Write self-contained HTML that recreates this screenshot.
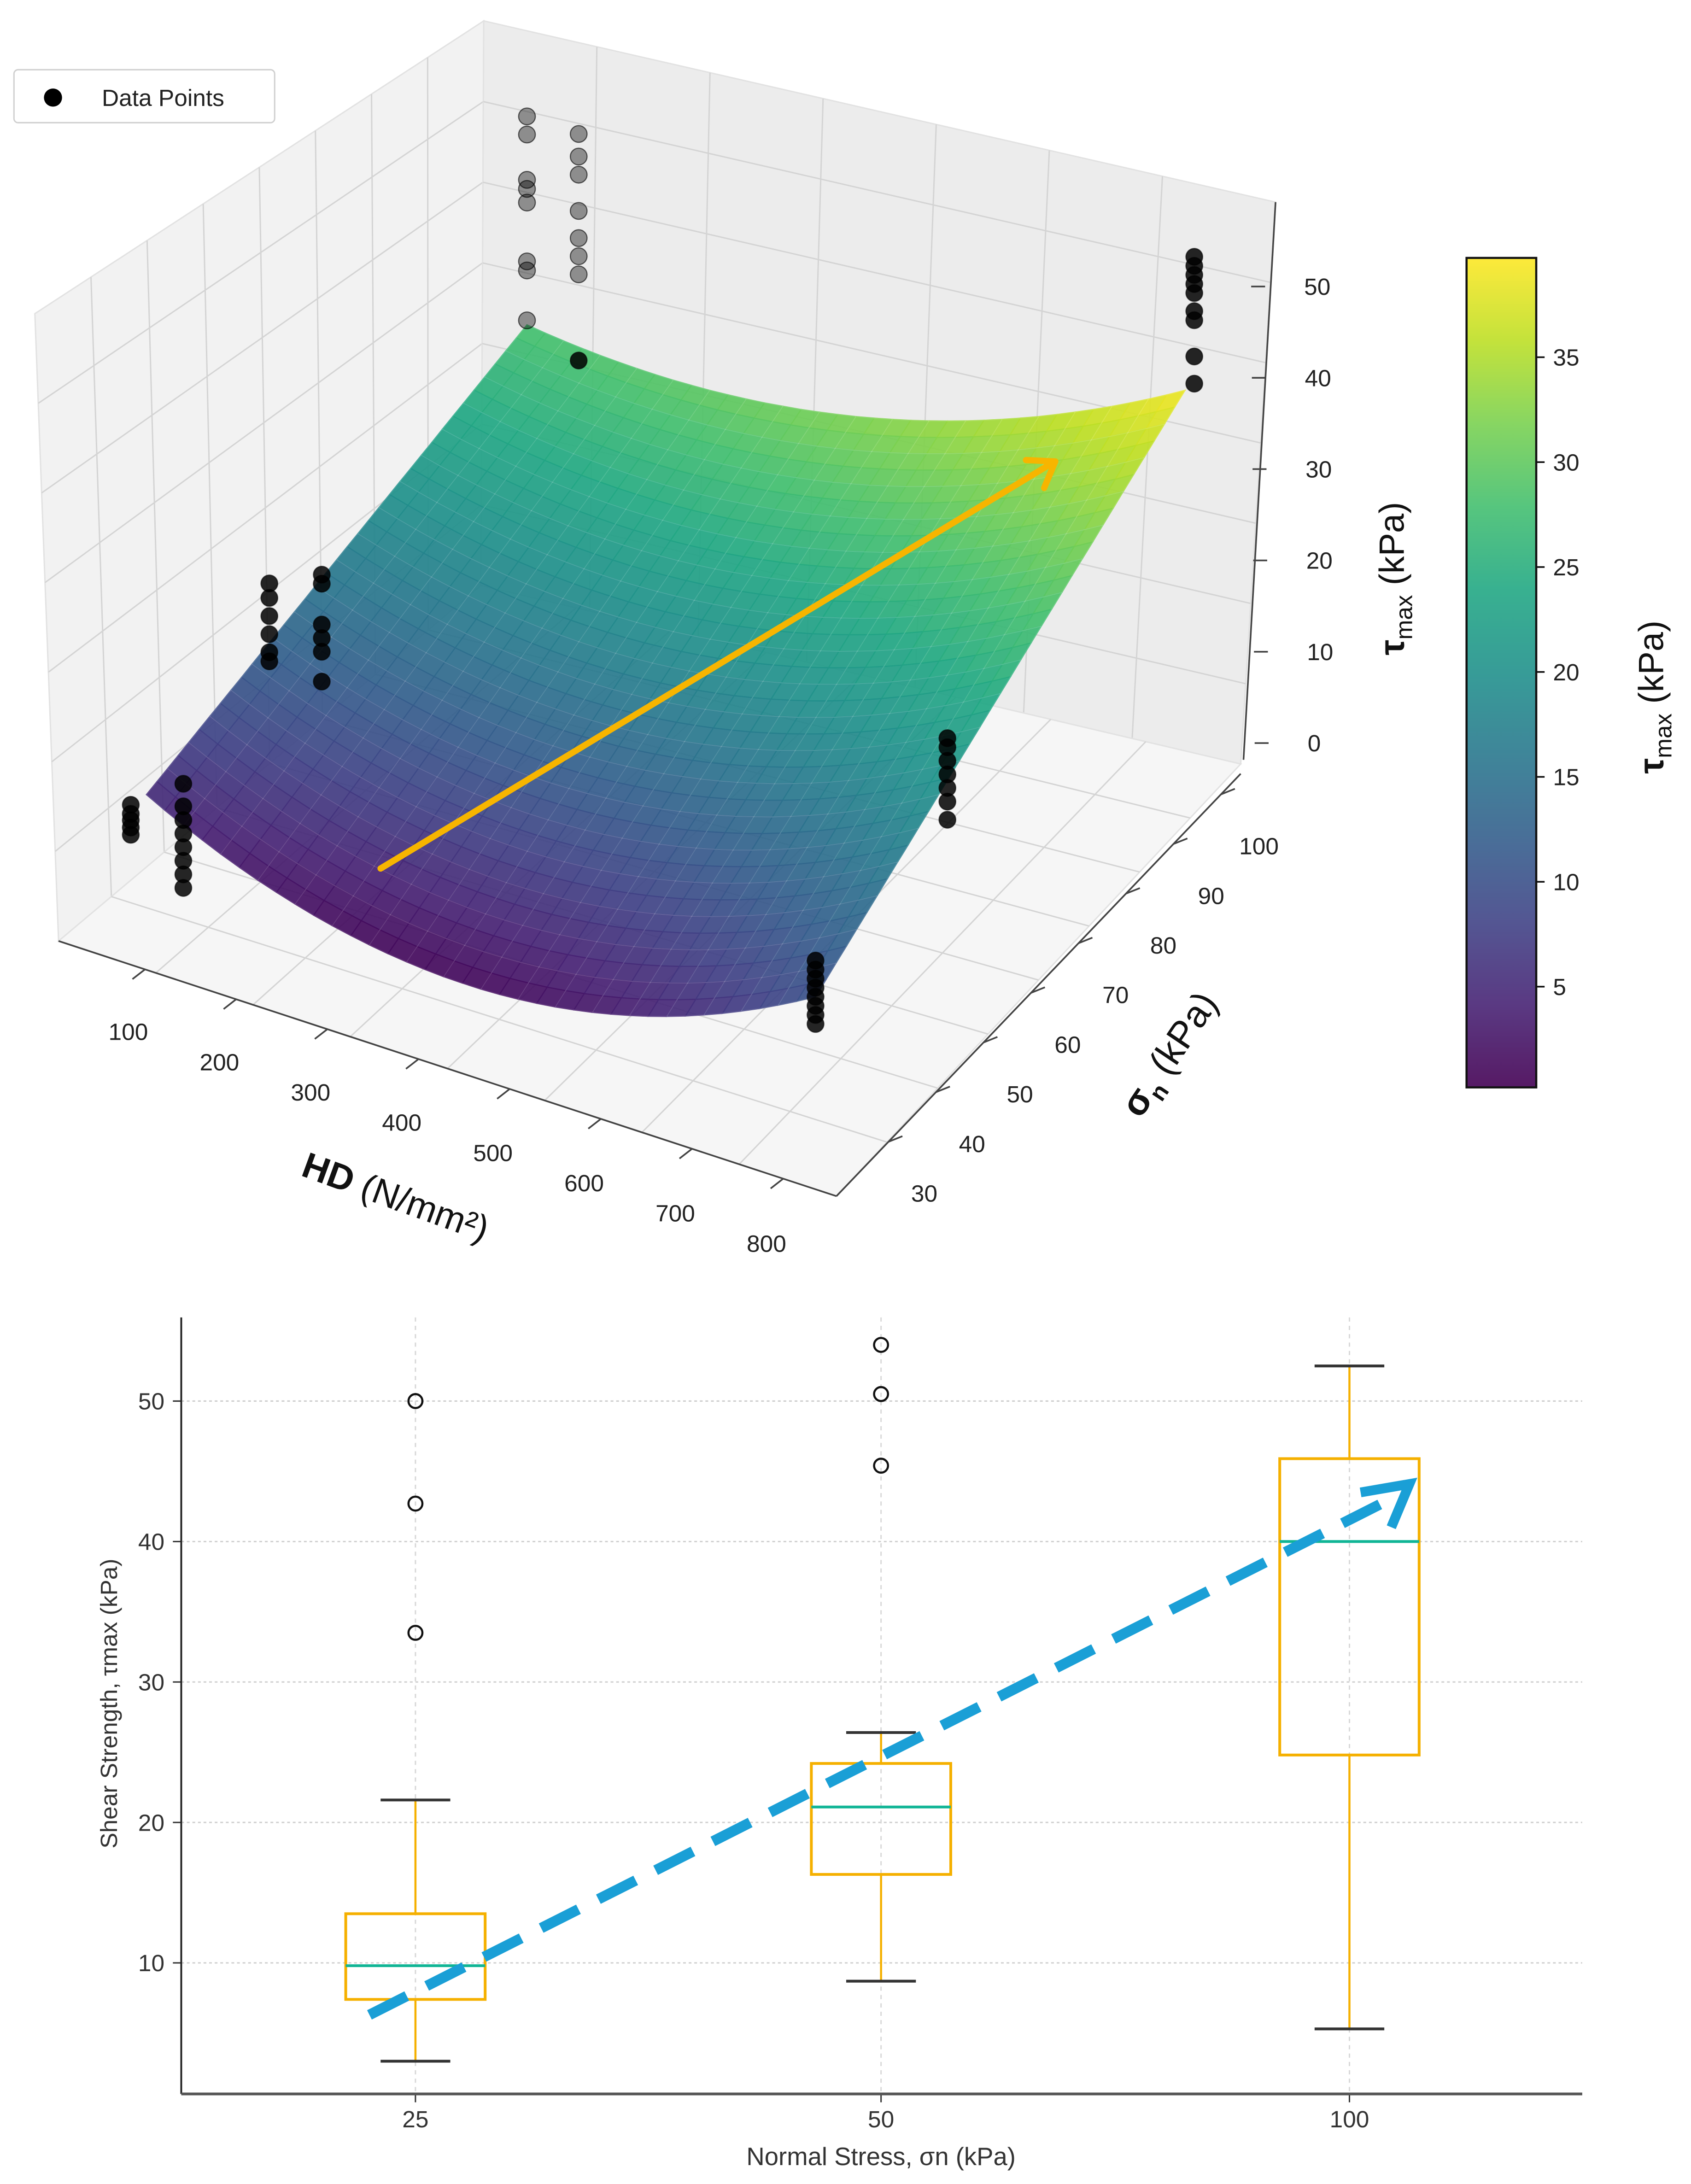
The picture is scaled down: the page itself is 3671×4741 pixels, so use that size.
<!DOCTYPE html>
<html><head><meta charset="utf-8">
<style>
html,body{margin:0;padding:0;background:#fff;}
svg{display:block;font-family:"Liberation Sans","DejaVu Sans",sans-serif;}
</style></head>
<body>
<svg id="fig" width="3671" height="4741" viewBox="0 0 1213 1566.6" xmlns="http://www.w3.org/2000/svg">
<defs>
<linearGradient id="cbgrad" x1="0" y1="1" x2="0" y2="0">
<stop offset="0" stop-color="#440154"/><stop offset="0.1" stop-color="#482475"/><stop offset="0.2" stop-color="#414487"/><stop offset="0.3" stop-color="#355f8d"/><stop offset="0.4" stop-color="#2a788e"/><stop offset="0.5" stop-color="#21918c"/><stop offset="0.6" stop-color="#22a884"/><stop offset="0.7" stop-color="#44bf70"/><stop offset="0.8" stop-color="#7ad151"/><stop offset="0.9" stop-color="#bddf26"/><stop offset="1" stop-color="#fde725"/>
</linearGradient>
</defs>
<g id="g3d"></g>
<g id="gcb"></g>
<g id="gbox"></g>
</svg>
<script>
// ---------- 3D chart data ----------
const hdTicks = [100,200,300,400,500,600,700,800];
const snTicks = [30,40,50,60,70,80,90,100];
const tauTicks = [0,10,20,30,40,50];
const cbTicks = [5,10,15,20,25,30,35];
const cornerTau = [5,10,39,28]; // (hd100,sn30),(hd800,sn30),(hd800,sn100),(hd100,sn100)
const ptHD  = [95,95,95,95,95, 150,150,150,150,150,150,150,150, 115,115,115,115,115,115, 170,170,170,170,170,170, 100,100,100,100,100,100,100,100, 155,155,155,155,155,155,155,155, 800,800,800,800,800,800,800,800, 800,800,800,800,800,800,800, 810,810,810,810,810,810,810,810,810];
const ptSN  = [28,28,28,28,28, 28,28,28,28,28,28,28,28, 50,50,50,50,50,50, 50,50,50,50,50,50, 100,100,100,100,100,100,100,100, 100,100,100,100,100,100,100,100, 30,30,30,30,30,30,30,30, 55,55,55,55,55,55,55, 100,100,100,100,100,100,100,100,100];
const ptTau = [1.2,2,2.8,3.5,4.5, -2.5,-1,0.5,2,3.5,5,6.5,9, 20.6,19,17,15,13,12, 23.5,22.5,18,16.5,15,11.7, 51,49,44,43,41.5,35,34,28.5, 50.5,48,46,42,39,37,35,25.5, 14,13,12,11,10,9,8,7, 25,24,22.5,21,19.5,18,16, 54,53,52,51,50,48,47,43,40];
const ptFaded = [0,0,0,0,0, 0,0,0,0,0,0,0,0, 0,0,0,0,0,0, 0,0,0,0,0,0, 1,1,1,1,1,1,1,1, 1,1,1,1,1,1,1,0, 0,0,0,0,0,0,0,0, 0,0,0,0,0,0,0, 0,0,0,0,0,0,0,0,0];

// ---------- box plot data ----------
const boxCats = ["25","50","100"];
const boxQ1 = [7.4,16.3,24.8];
const boxQ3 = [13.5,24.2,45.9];
const boxMed = [9.8,21.1,40.0];
const boxWlo = [3.0,8.7,5.3];
const boxWhi = [21.6,26.4,52.5];
const outCat = [0,0,0,1,1,1];
const outVal = [33.5,42.7,50.0,45.4,50.5,54.0];
const boxYTicks = [10,20,30,40,50];
const trendFrom = [6.3]; const trendTo = [43.4];

const NS="http://www.w3.org/2000/svg";
function mk(parent,tag,attrs,text){const e=document.createElementNS(NS,tag);for(const k in attrs)e.setAttribute(k,attrs[k]);if(text!==undefined)e.textContent=text;parent.appendChild(e);return e;}

// ---------- 3D projection ----------
const F=[[105,602.5],[585,780],[850,533.5],[378,415]];
const TZ=6.5;
function proj(hd,sn,t){
  const u=(hd-100)/700, v=(sn-30)/70;
  const x=F[0][0]*(1-u)*(1-v)+F[1][0]*u*(1-v)+F[2][0]*u*v+F[3][0]*(1-u)*v;
  const y=F[0][1]*(1-u)*(1-v)+F[1][1]*u*(1-v)+F[2][1]*u*v+F[3][1]*(1-u)*v;
  return [x,y-t*TZ];
}
function bil(u,v){return cornerTau[0]*(1-u)*(1-v)+cornerTau[1]*u*(1-v)+cornerTau[2]*u*v+cornerTau[3]*(1-u)*v;}
function surfTau(u,v){return bil(u,v)-4*u*(1-u)*(10.3-3.8*v);}
function colTau(u,v){return bil(u,v)-4*u*(1-u)*(6.5-5*v);}
const VS=[[68,1,84],[72,36,117],[65,68,135],[53,95,141],[42,120,142],[33,145,140],[34,168,132],[68,191,112],[122,209,81],[189,223,38],[253,231,37]];
function viridis(t){t=Math.max(0,Math.min(1,t));const s=t*10,i=Math.min(9,Math.floor(s)),f=s-i;const a=VS[i],b=VS[i+1];
 return `rgb(${Math.round(a[0]+(b[0]-a[0])*f)},${Math.round(a[1]+(b[1]-a[1])*f)},${Math.round(a[2]+(b[2]-a[2])*f)})`;}

const g3=document.getElementById('g3d');
function quadPt(Q,a,b){
  return [Q[0][0]*(1-a)*(1-b)+Q[1][0]*a*(1-b)+Q[2][0]*a*b+Q[3][0]*(1-a)*b,
          Q[0][1]*(1-a)*(1-b)+Q[1][1]*a*(1-b)+Q[2][1]*a*b+Q[3][1]*(1-a)*b];}
function pane(Q,fill,name,nA,nB){
  const p=mk(g3,'polygon',{points:Q.map(q=>q.join(',')).join(' '),fill:fill,stroke:'#e2e2e2','stroke-width':1});
  
  for(let i=1;i<nA;i++){const a=i/nA;const s=quadPt(Q,a,0),e=quadPt(Q,a,1);mk(g3,'line',{x1:s[0],y1:s[1],x2:e[0],y2:e[1],stroke:'#d4d4d4','stroke-width':1});}
  for(let i=1;i<nB;i++){const b=i/nB;const s=quadPt(Q,0,b),e=quadPt(Q,1,b);mk(g3,'line',{x1:s[0],y1:s[1],x2:e[0],y2:e[1],stroke:'#d4d4d4','stroke-width':1});}
}
pane([[42,675],[345,420],[347,15],[25,225]],'#f2f2f2','left-pane',8,7);
pane([[345,420],[890,548],[915,145],[347,15]],'#ececec','back-pane',7,7);
pane([[42,675],[600,858],[890,548],[345,420]],'#f6f6f6','floor-pane',8,8);

const gs=mk(g3,'g',{});
const N=36;
for(let j=N-1;j>=0;j--){for(let i=0;i<N;i++){
  const u0=i/N,u1=(i+1)/N,v0=j/N,v1=(j+1)/N;
  const c=[[u0,v0],[u1,v0],[u1,v1],[u0,v1]].map(([u,v])=>proj(100+u*700,30+v*70,surfTau(u,v)));
  const col=viridis(colTau((u0+u1)/2,(v0+v1)/2)/39.7);
  mk(gs,'polygon',{points:c.map(p=>p[0].toFixed(1)+','+p[1].toFixed(1)).join(' '),fill:col,stroke:col,'stroke-width':0.8,'fill-opacity':0.93});
}}
for(let k=0;k<=N;k+=2){const pts=[];for(let m=0;m<=N;m++){const u=k/N,v=m/N;pts.push(proj(100+u*700,30+v*70,surfTau(u,v)).map(n=>n.toFixed(1)).join(','));}
 mk(gs,'polyline',{points:pts.join(' '),fill:'none',stroke:'rgba(255,255,255,0.18)','stroke-width':0.7});
 const pts2=[];for(let m=0;m<=N;m++){const v=k/N,u=m/N;pts2.push(proj(100+u*700,30+v*70,surfTau(u,v)).map(n=>n.toFixed(1)).join(','));}
 mk(gs,'polyline',{points:pts2.join(' '),fill:'none',stroke:'rgba(255,255,255,0.18)','stroke-width':0.7});}

const ar=mk(g3,'g',{});
mk(ar,'line',{x1:273,y1:623,x2:755,y2:332,stroke:'#f7b500','stroke-width':4.5,'stroke-linecap':'round'});
mk(ar,'polyline',{points:'736,330 757,331 749,350',fill:'none',stroke:'#f7b500','stroke-width':4.5,'stroke-linecap':'round','stroke-linejoin':'round'});

for(let i=0;i<ptHD.length;i++){const p=proj(ptHD[i],ptSN[i],ptTau[i]);
  const c=mk(g3,'circle',{cx:p[0].toFixed(1),cy:p[1].toFixed(1),r:6,fill:'#000','fill-opacity':ptFaded[i]?0.4:0.85,stroke:'#000','stroke-opacity':0.6,'stroke-width':0.8});
  }

mk(g3,'line',{x1:42,y1:675,x2:600,y2:858,stroke:'#444','stroke-width':1.2});
mk(g3,'line',{x1:600,y1:858,x2:890,y2:555,stroke:'#444','stroke-width':1.2});
mk(g3,'line',{x1:915,y1:145,x2:892,y2:545,stroke:'#444','stroke-width':1.2});
// HD ticks
hdTicks.forEach((h,i)=>{const lx=92+i*65.4, ly=740+i*21.7;
  const ax=lx+12, ay=675+(ax-42)*0.328;
  mk(g3,'line',{x1:ax,y1:ay,x2:ax-9,y2:ay+7,stroke:'#444','stroke-width':1.2});
  const t=mk(g3,'text',{x:lx,y:ly+6,'font-size':17,fill:'#222','text-anchor':'middle'},String(h));});
const hl=mk(g3,'text',{x:215,y:843,'font-size':26,fill:'#111',transform:'rotate(20 215 843)'});
mk(hl,'tspan',{'font-weight':'bold'},'HD');mk(hl,'tspan',{},' (N/mm²)');
// sigma ticks
snTicks.forEach((s,i)=>{const lx=663+i*34.3, ly=856-i*35.6;
  const ty=ly-37+i*0*1, tx=600+(858-(ly-37))/303*290;
  mk(g3,'line',{x1:tx,y1:ly-37,x2:tx+10,y2:ly-41,stroke:'#444','stroke-width':1.2});
  const t=mk(g3,'text',{x:lx,y:ly+6,'font-size':17,fill:'#222','text-anchor':'middle'},String(s));});
const sl=mk(g3,'text',{x:818,y:803,'font-size':27,fill:'#111',transform:'rotate(-56 818 803)'});
mk(sl,'tspan',{'font-weight':'bold'},'σ');mk(sl,'tspan',{'font-size':17,dy:6,'font-weight':'bold'},'n');mk(sl,'tspan',{dy:-6},' (kPa)');
// tau ticks
tauTicks.forEach(v=>{const y=533-v*6.55;const x=906-v*0.05;
  mk(g3,'line',{x1:x-6,y1:y,x2:x+4,y2:y,stroke:'#444','stroke-width':1.2});
  const t=mk(g3,'text',{x:x+32,y:y+6,'font-size':17,fill:'#222'},String(v));});
const tl=mk(g3,'text',{x:1007,y:470,'font-size':25,fill:'#111',transform:'rotate(-90 1007 470)'});
mk(tl,'tspan',{'font-weight':'bold'},'τ');mk(tl,'tspan',{'font-size':17,dy:6},'max');mk(tl,'tspan',{dy:-6},' (kPa)');

const lg=mk(g3,'g',{});
mk(lg,'rect',{x:10,y:50,width:187,height:38,rx:3,fill:'#fff',stroke:'#d0d0d0','stroke-width':1});
mk(lg,'circle',{cx:38,cy:70,r:6.5,fill:'#000'});
const lt=mk(lg,'text',{x:73,y:76,'font-size':17,fill:'#222'},'Data Points');

// ---------- colorbar ----------
const gc=document.getElementById('gcb');
const cbY=v=>783-v*15.05;
mk(gc,'rect',{x:1052,y:185,width:50,height:595,fill:'url(#cbgrad)',stroke:'#111','stroke-width':1.5,'fill-opacity':0.9});
cbTicks.forEach(v=>{const y=cbY(v);mk(gc,'line',{x1:1102,y1:y,x2:1108,y2:y,stroke:'#111','stroke-width':1.2});
  const t=mk(gc,'text',{x:1114,y:y+6,'font-size':17,fill:'#222'},String(v));});
const cl=mk(gc,'text',{x:1193,y:555,'font-size':25,fill:'#111',transform:'rotate(-90 1193 555)'});
mk(cl,'tspan',{'font-weight':'bold'},'τ');mk(cl,'tspan',{'font-size':17,dy:6},'max');mk(cl,'tspan',{dy:-6},' (kPa)');

// ---------- box plot ----------
const gb=document.getElementById('gbox');
const bxX=[298,632,968];
const bY=v=>1408-(v-10)*10.075;
boxYTicks.forEach(v=>{const y=bY(v);mk(gb,'line',{x1:130,y1:y,x2:1135,y2:y,stroke:'#cfcfcf','stroke-width':1,'stroke-dasharray':'2,2'});
  mk(gb,'line',{x1:124,y1:y,x2:130,y2:y,stroke:'#333','stroke-width':1});
  const t=mk(gb,'text',{x:118,y:y+6,'font-size':17,fill:'#333','text-anchor':'end'},String(v));});
boxCats.forEach((c,i)=>{const x=bxX[i];
  mk(gb,'line',{x1:x,y1:945,x2:x,y2:1502,stroke:'#d8d8d8','stroke-width':1,'stroke-dasharray':'3,3'});
  mk(gb,'line',{x1:x,y1:1502,x2:x,y2:1508,stroke:'#333','stroke-width':1});
  const t=mk(gb,'text',{x:x,y:1526,'font-size':17,fill:'#333','text-anchor':'middle'},c);});
boxCats.forEach((c,i)=>{const x=bxX[i];const g=mk(gb,'g',{});
  mk(g,'line',{x1:x,y1:bY(boxWhi[i]),x2:x,y2:bY(boxQ3[i]),stroke:'#f5b000','stroke-width':1.5});
  mk(g,'line',{x1:x,y1:bY(boxQ1[i]),x2:x,y2:bY(boxWlo[i]),stroke:'#f5b000','stroke-width':1.5});
  mk(g,'line',{x1:x-25,y1:bY(boxWhi[i]),x2:x+25,y2:bY(boxWhi[i]),stroke:'#333','stroke-width':2});
  mk(g,'line',{x1:x-25,y1:bY(boxWlo[i]),x2:x+25,y2:bY(boxWlo[i]),stroke:'#333','stroke-width':2});
  mk(g,'rect',{x:x-50,y:bY(boxQ3[i]),width:100,height:bY(boxQ1[i])-bY(boxQ3[i]),fill:'none',stroke:'#f5b000','stroke-width':2});
  mk(g,'line',{x1:x-50,y1:bY(boxMed[i]),x2:x+50,y2:bY(boxMed[i]),stroke:'#10b595','stroke-width':2});});
outVal.forEach((v,i)=>{const c=mk(gb,'circle',{cx:bxX[outCat[i]],cy:bY(v),r:5,fill:'none',stroke:'#111','stroke-width':1.5});});
const tx0=265,tx1=1003;const ty0=bY(trendFrom[0]),ty1=bY(trendTo[0]);
const ta=mk(gb,'g',{});
mk(ta,'line',{x1:tx0,y1:ty0,x2:tx1-8,y2:ty1+5,stroke:'#1a9fd6','stroke-width':7.5,'stroke-dasharray':'30,16'});
mk(ta,'polyline',{points:`${tx1-27},${ty1-1} ${tx1+8},${ty1-7} ${tx1-5},${ty1+24}`,fill:'none',stroke:'#1a9fd6','stroke-width':7,'stroke-linejoin':'miter'});
mk(gb,'line',{x1:130,y1:945,x2:130,y2:1502,stroke:'#222','stroke-width':1.3});
mk(gb,'line',{x1:130,y1:1502,x2:1135,y2:1502,stroke:'#555','stroke-width':2});
const xt=mk(gb,'text',{x:632,y:1553,'font-size':18,fill:'#333','text-anchor':'middle'},'Normal Stress, σn (kPa)');
const yt=mk(gb,'text',{x:84,y:1222,'font-size':17,fill:'#333','text-anchor':'middle',transform:'rotate(-90 84 1222)'},'Shear Strength, τmax (kPa)');
</script>
</body></html>
